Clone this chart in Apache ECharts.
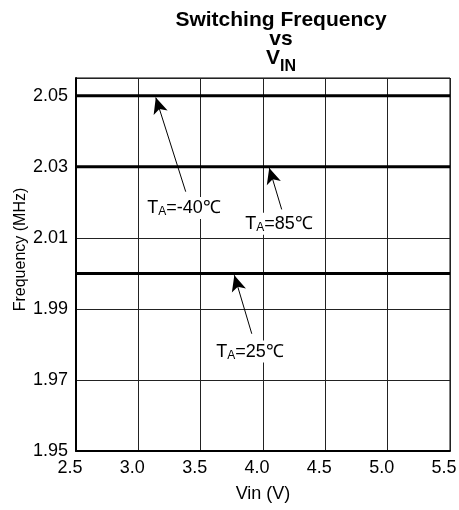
<!DOCTYPE html>
<html lang="en">

<head>
    <meta charset="UTF-8">
    <title>Switching Frequency vs VIN</title>
    <script src="https://cdnjs.cloudflare.com/ajax/libs/echarts/6.0.0/echarts.min.js"></script>
    <style>
        body { margin: 0; background: #fff; }
    </style>
</head>

<body>
    <div id="main" style="width: 459px;height:510px;"></div>

    <script type="text/javascript">
        // data
        const vin = [2.5, 3.0, 3.5, 4.0, 4.5, 5.0, 5.5];
        const freqM40 = [2.05, 2.05, 2.05, 2.05, 2.05, 2.05, 2.05];
        const freq85 = [2.03, 2.03, 2.03, 2.03, 2.03, 2.03, 2.03];
        const freq25 = [2.00, 2.00, 2.00, 2.00, 2.00, 2.00, 2.00];

        // annotations: label text, text position, arrow tail, arrow tip (data units)
        const noteText = ['=-40℃', '=85℃', '=25℃'];
        const notePos = [[3.366, 2.0184], [4.128, 2.014], [3.895, 1.978]];
        const arrowTail = [[3.38, 2.023], [4.15, 2.018], [3.91, 1.983]];
        const arrowTip = [[3.14, 2.0495], [4.05, 2.0297], [3.77, 1.9995]];

        const myChart = echarts.init(document.getElementById('main'));
        const font = 'Liberation Sans, Arial, sans-serif';

        function flat(ys) {
            return vin.map((x, i) => [x, ys[i]]);
        }

        const lineStyle = { color: '#000', width: 3 };

        var option = {
            animation: false,
            title: {
                text: '{b|Switching Frequency}\n{b|vs}\n{b|V}{sub|IN}',
                left: 276,
                top: 6,
                textAlign: 'center',
                textStyle: {
                    rich: {
                        b: { fontFamily: font, fontSize: 21, fontWeight: 'bold', color: '#000', lineHeight: 19, align: 'center' },
                        sub: { fontFamily: font, fontSize: 16, fontWeight: 'bold', color: '#000', lineHeight: 12, verticalAlign: 'top', padding: [10, 0, 0, 0] }
                    }
                }
            },
            grid: {
                left: 76, right: 9, top: 78, bottom: 59,
                outerBoundsMode: 'none',
                show: true, borderColor: '#000', borderWidth: 1
            },
            xAxis: {
                type: 'value',
                min: 2.5, max: 5.5, interval: 0.5,
                name: 'Vin (V)',
                nameLocation: 'middle',
                nameGap: 34,
                nameMoveOverlap: false,
                nameTextStyle: { fontFamily: font, fontSize: 18, color: '#000' },
                axisLine: { lineStyle: { color: '#000', width: 2 } },
                axisTick: { show: false },
                axisLabel: {
                    fontFamily: font, fontSize: 18, color: '#000', margin: 8,
                    padding: [0, 12, 0, 0],
                    formatter: v => v.toFixed(1)
                },
                splitLine: { lineStyle: { color: '#222', width: 1 } }
            },
            yAxis: {
                type: 'value',
                min: 1.95, max: 2.055, interval: 0.02,
                name: 'Frequency (MHz)',
                nameLocation: 'middle',
                nameGap: 47,
                nameMoveOverlap: false,
                nameTextStyle: { fontFamily: font, fontSize: 16, color: '#000', padding: [0, 0, 0, 30] },
                axisLine: { show: true, lineStyle: { color: '#000', width: 2 } },
                axisTick: { show: false },
                axisLabel: {
                    fontFamily: font, fontSize: 18, color: '#000', margin: 8,
                    showMaxLabel: false,
                    formatter: v => v.toFixed(2)
                },
                splitLine: { lineStyle: { color: '#222', width: 1 } }
            },
            series: [
                { type: 'line', data: flat(freqM40), symbol: 'none', lineStyle: lineStyle, z: 3 },
                { type: 'line', data: flat(freq85), symbol: 'none', lineStyle: lineStyle, z: 3 },
                {
                    type: 'line', data: flat(freq25), symbol: 'none', lineStyle: lineStyle, z: 3,
                    markLine: {
                        silent: true,
                        symbol: ['none', 'arrow'],
                        symbolSize: [11, 16],
                        label: { show: false },
                        lineStyle: { color: '#000', width: 1, type: 'solid', opacity: 1 },
                        data: arrowTail.map((t, i) => [{ coord: t }, { coord: arrowTip[i] }])
                    }
                },
                {
                    type: 'scatter',
                    symbolSize: 0,
                    silent: true,
                    data: notePos.map((p, i) => ({ value: p, name: noteText[i] })),
                    label: {
                        show: true,
                        position: 'inside',
                        color: '#000',
                        opacity: 1,
                        formatter: p => '{t|T}{s|A}{t|' + p.name + '}',
                        backgroundColor: '#fff',
                        padding: [1, 1, 1, 1],
                        rich: {
                            t: { fontFamily: font, fontSize: 18, color: '#000', lineHeight: 20 },
                            s: { fontFamily: font, fontSize: 12, color: '#000', lineHeight: 12, verticalAlign: 'bottom' }
                        }
                    },
                    z: 5
                }
            ]
        };

        myChart.setOption(option);
    </script>
</body>

</html>
